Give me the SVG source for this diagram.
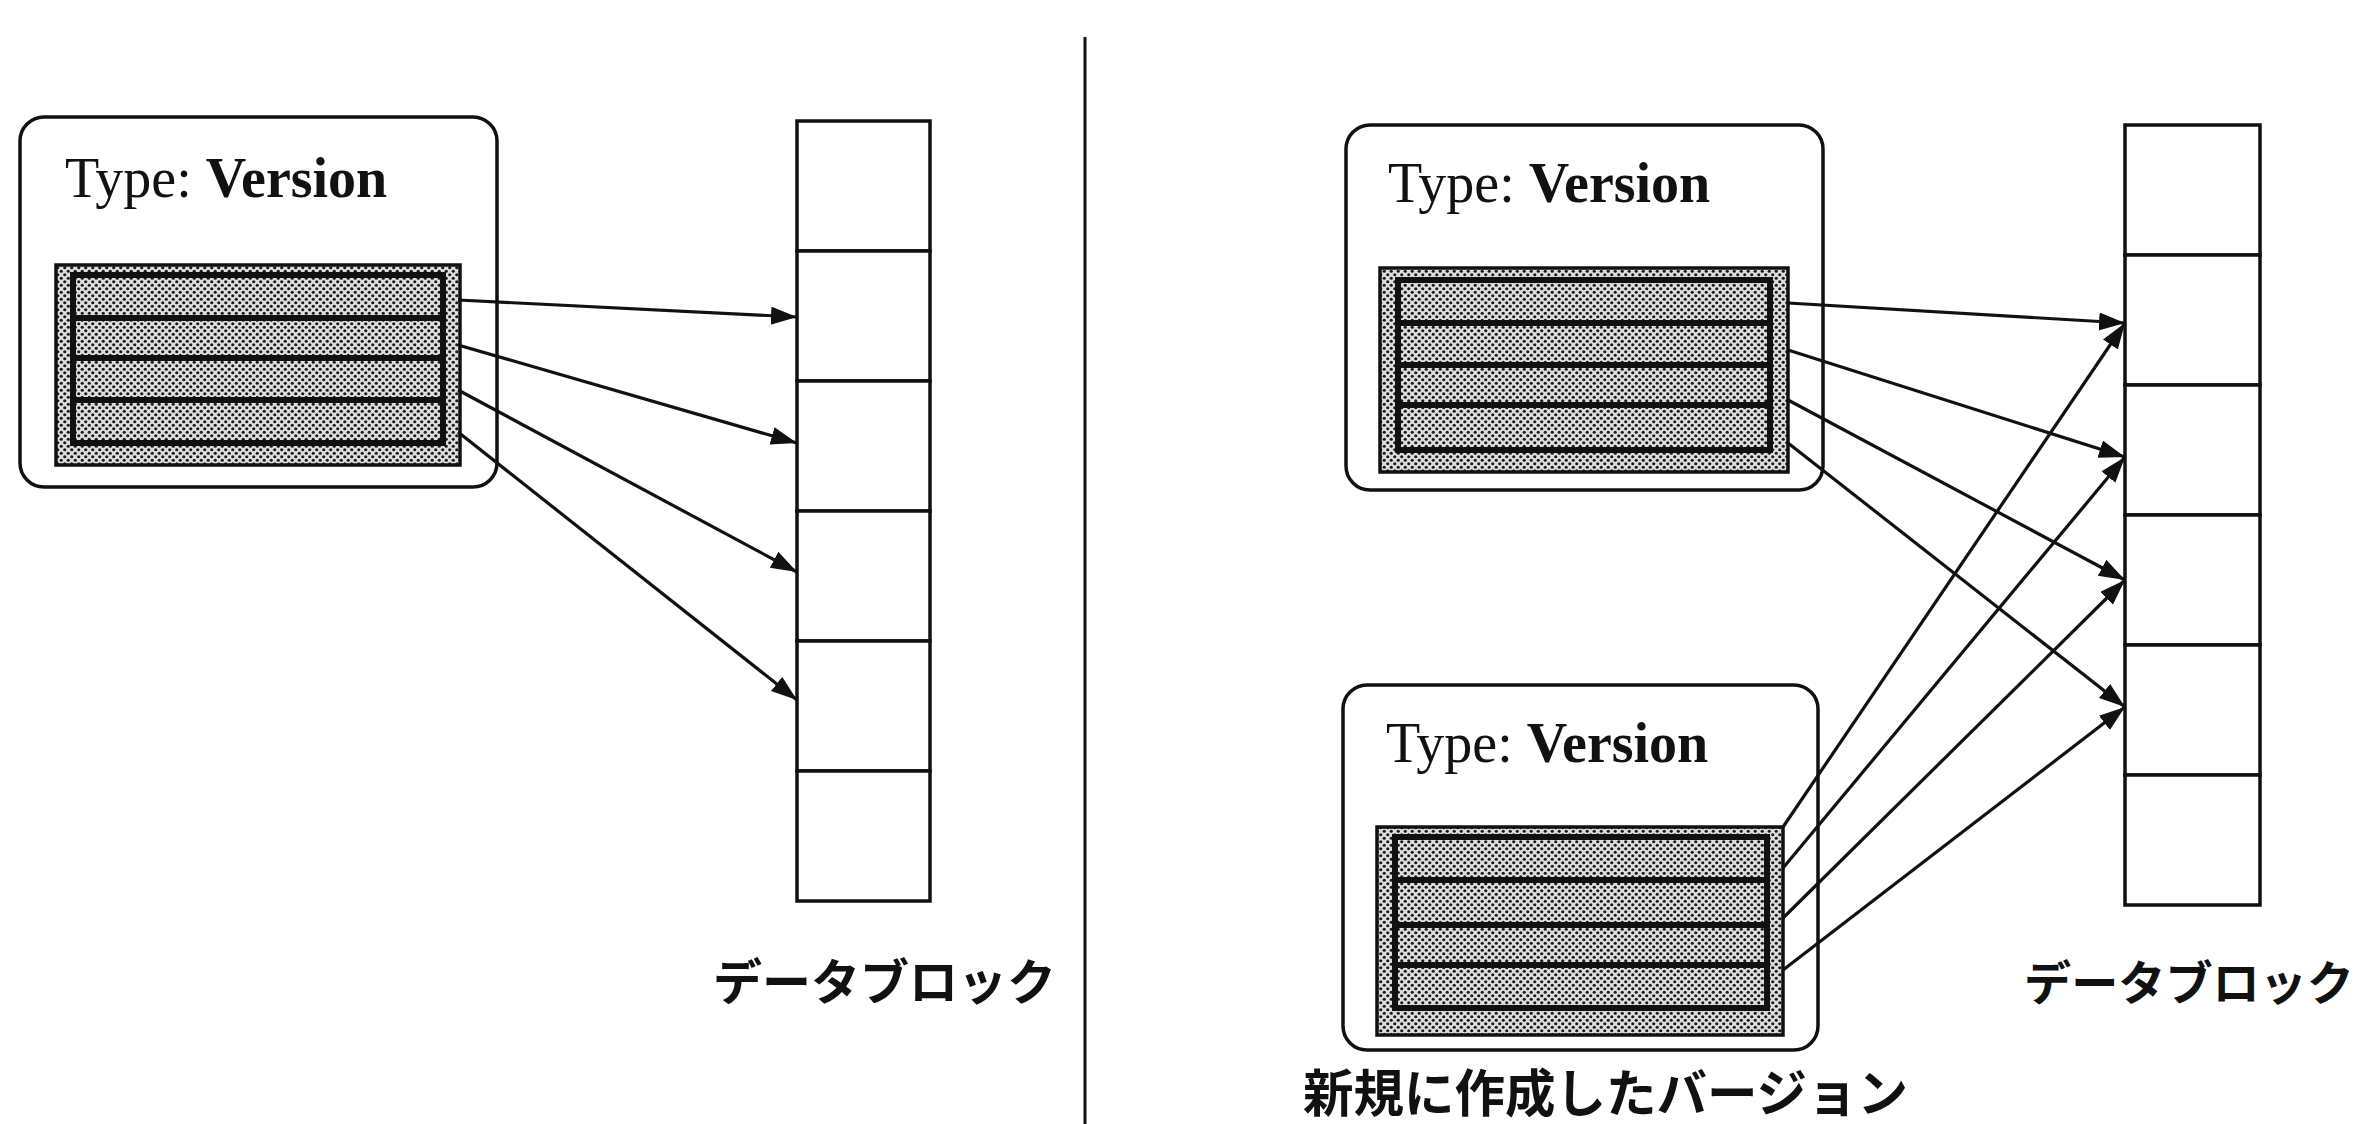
<svg xmlns="http://www.w3.org/2000/svg" width="2370" height="1124" viewBox="0 0 2370 1124">
<style>
.node{fill:#fff;stroke:#111;stroke-width:3.5}
.blk{fill:url(#dots);stroke:#111}
.outerblk{stroke-width:3.5}
.innerblk{stroke-width:6}
.sep{stroke:#111;stroke-width:6}
.cell{fill:#fff;stroke:#111;stroke-width:3.5}
.conn{fill:none;stroke:#111;stroke-width:3.2;marker-end:url(#arr)}
.type{font-family:"Liberation Serif",serif;font-size:56px;fill:#111}
.jp{font-family:"Noto Sans CJK JP",sans-serif;font-weight:bold;fill:#111}
</style>
<defs>
<pattern id="dots" width="7" height="7" patternUnits="userSpaceOnUse">
<rect width="7" height="7" fill="#dedede"/>
<circle cx="1.75" cy="1.75" r="1.6" fill="#1a1a1a"/>
<circle cx="5.25" cy="5.25" r="1.6" fill="#1a1a1a"/>
</pattern>
<marker id="arr" markerWidth="28" markerHeight="20" refX="26" refY="9" orient="auto" markerUnits="userSpaceOnUse">
<path d="M0,0 L26,9 L0,18 Z" fill="#111"/>
</marker>
</defs>
<rect width="2370" height="1124" fill="#fff"/>
<line x1="1085" y1="37" x2="1085" y2="1124" stroke="#111" stroke-width="3"/>

<g id="left-version">
<rect class="node" x="20" y="117" width="477" height="370" rx="24"/>
<text class="type" x="65" y="197">Type: <tspan font-weight="bold">Version</tspan></text>
<rect class="blk outerblk" x="56" y="265" width="404" height="200"/>
<rect class="blk innerblk" x="73" y="275" width="370" height="168"/>
<line class="sep" x1="73" y1="318" x2="443" y2="318"/>
<line class="sep" x1="73" y1="358" x2="443" y2="358"/>
<line class="sep" x1="73" y1="400" x2="443" y2="400"/>
</g>

<g id="left-datablock">
<rect class="cell" x="797" y="121" width="133" height="130"/>
<rect class="cell" x="797" y="251" width="133" height="130"/>
<rect class="cell" x="797" y="381" width="133" height="130"/>
<rect class="cell" x="797" y="511" width="133" height="130"/>
<rect class="cell" x="797" y="641" width="133" height="130"/>
<rect class="cell" x="797" y="771" width="133" height="130"/>
<text class="jp" x="713" y="1000" font-size="49" textLength="343" lengthAdjust="spacingAndGlyphs">データブロック</text>
</g>

<g id="right-version-old">
<rect class="node" x="1346" y="125" width="477" height="365" rx="24"/>
<text class="type" x="1388" y="202">Type: <tspan font-weight="bold">Version</tspan></text>
<rect class="blk outerblk" x="1380" y="268" width="408" height="204"/>
<rect class="blk innerblk" x="1398" y="280" width="372" height="170"/>
<line class="sep" x1="1398" y1="323" x2="1770" y2="323"/>
<line class="sep" x1="1398" y1="365" x2="1770" y2="365"/>
<line class="sep" x1="1398" y1="405" x2="1770" y2="405"/>
</g>

<g id="right-version-new">
<rect class="node" x="1343" y="685" width="475" height="365" rx="24"/>
<text class="type" x="1386" y="762">Type: <tspan font-weight="bold">Version</tspan></text>
<rect class="blk outerblk" x="1377" y="827" width="406" height="208"/>
<rect class="blk innerblk" x="1395" y="837" width="372" height="171"/>
<line class="sep" x1="1395" y1="880" x2="1767" y2="880"/>
<line class="sep" x1="1395" y1="925" x2="1767" y2="925"/>
<line class="sep" x1="1395" y1="965" x2="1767" y2="965"/>
<text class="jp" x="1303" y="1112" font-size="51" textLength="605" lengthAdjust="spacingAndGlyphs">新規に作成したバージョン</text>
</g>

<g id="right-datablock">
<rect class="cell" x="2125" y="125" width="135" height="130"/>
<rect class="cell" x="2125" y="255" width="135" height="130"/>
<rect class="cell" x="2125" y="385" width="135" height="130"/>
<rect class="cell" x="2125" y="515" width="135" height="130"/>
<rect class="cell" x="2125" y="645" width="135" height="130"/>
<rect class="cell" x="2125" y="775" width="135" height="130"/>
<text class="jp" x="2024" y="1000" font-size="47" textLength="330" lengthAdjust="spacingAndGlyphs">データブロック</text>
</g>

<g id="connectors">
<line class="conn" x1="458" y1="300" x2="797" y2="317"/>
<line class="conn" x1="458" y1="345" x2="797" y2="443"/>
<line class="conn" x1="458" y1="390" x2="797" y2="572"/>
<line class="conn" x1="458" y1="432" x2="797" y2="700"/>
<line class="conn" x1="1788" y1="303" x2="2125" y2="323"/>
<line class="conn" x1="1788" y1="350" x2="2125" y2="457"/>
<line class="conn" x1="1788" y1="400" x2="2125" y2="580"/>
<line class="conn" x1="1788" y1="443" x2="2125" y2="707"/>
<line class="conn" x1="1783" y1="827" x2="2125" y2="323"/>
<line class="conn" x1="1783" y1="868" x2="2125" y2="457"/>
<line class="conn" x1="1783" y1="918" x2="2125" y2="580"/>
<line class="conn" x1="1783" y1="970" x2="2125" y2="707"/>
</g>
</svg>
